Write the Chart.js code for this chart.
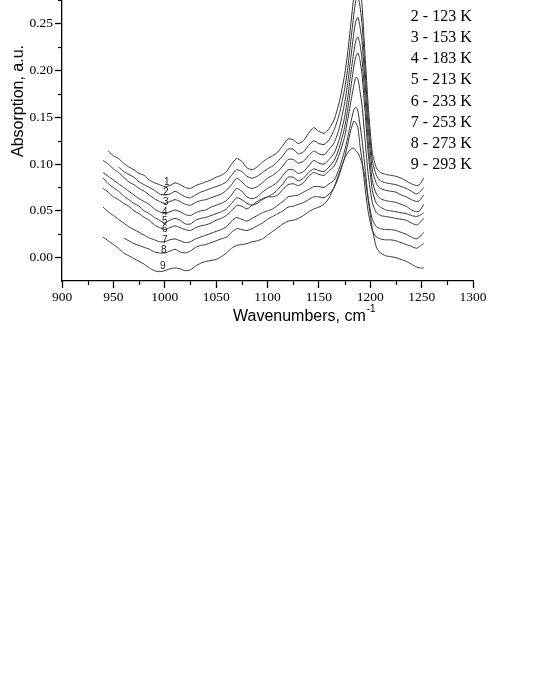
<!DOCTYPE html>
<html lang="en">
<head>
  <meta charset="UTF-8">
  <title>IR absorption vs temperature</title>
  <script src="https://cdn.jsdelivr.net/npm/chart.js"></script>
  <style>
    html, body {
      margin: 0;
      padding: 0;
      background: #fff;
      width: 536px;
      height: 693px;
      overflow: hidden;
      position: relative;
    }
    #grafico {
      position: absolute;
      left: 0;
      top: -100px;
    }
  </style>
</head>
<body>
  <canvas id="grafico" width="536" height="450"></canvas>

  <script>
// wavenumbers, cm-1 (shared x for all curves)
const wavenumbers = [
  940, 945, 950, 955, 960, 965, 970, 975, 980, 985, 990, 995, 1000,
  1005, 1010, 1015, 1020, 1025, 1030, 1035, 1040, 1045, 1050, 1055, 1060,
  1065, 1070, 1075, 1080, 1085, 1090, 1095, 1100, 1105, 1110, 1115, 1120,
  1125, 1130, 1135, 1140, 1145, 1150, 1155, 1160, 1165, 1170, 1175,
  1178, 1181, 1184, 1186, 1188, 1190, 1192, 1195, 1198, 1202, 1206, 1210,
  1215, 1220, 1225, 1230, 1235, 1240, 1245, 1248, 1252
];

const curve1 = [
  null, 0.114, 0.109, 0.106, 0.101, 0.097, 0.094, 0.090, 0.088, 0.083, 0.080, 0.078, 0.076,
  0.077, 0.080, 0.078, 0.075, 0.074, 0.077, 0.079, 0.081, 0.083, 0.086, 0.088, 0.092,
  0.100, 0.106, 0.103, 0.096, 0.094, 0.097, 0.102, 0.106, 0.109, 0.113, 0.120, 0.127,
  0.126, 0.122, 0.125, 0.133, 0.139, 0.135, 0.133, 0.138, 0.148, 0.167, 0.195,
  0.219, 0.249, 0.279, 0.294, 0.300, 0.289, 0.270, 0.216, 0.163, 0.112, 0.096, 0.091,
  0.089, 0.088, 0.087, 0.085, 0.082, 0.079, 0.077, 0.078, 0.085
];
const curve2 = [
  null, null, null, 0.097, 0.092, 0.089, 0.086, 0.081, 0.078, 0.075, 0.072, 0.068, 0.067,
  0.068, 0.071, 0.068, 0.065, 0.064, 0.067, 0.070, 0.072, 0.074, 0.076, 0.078, 0.081,
  0.088, 0.094, 0.092, 0.087, 0.085, 0.087, 0.091, 0.095, 0.098, 0.103, 0.109, 0.116,
  0.116, 0.111, 0.113, 0.120, 0.125, 0.122, 0.121, 0.126, 0.137, 0.154, 0.180,
  0.202, 0.231, 0.260, 0.275, 0.279, 0.269, 0.250, 0.200, 0.150, 0.104, 0.088, 0.082,
  0.080, 0.079, 0.078, 0.076, 0.074, 0.071, 0.068, 0.070, 0.075
];
const curve3 = [
  0.104, 0.100, 0.095, 0.091, 0.086, 0.081, 0.078, 0.074, 0.071, 0.067, 0.063, 0.060, 0.058,
  0.060, 0.062, 0.060, 0.057, 0.056, 0.059, 0.061, 0.062, 0.064, 0.066, 0.068, 0.072,
  0.078, 0.085, 0.081, 0.076, 0.074, 0.076, 0.080, 0.085, 0.088, 0.092, 0.098, 0.105,
  0.105, 0.101, 0.103, 0.109, 0.114, 0.111, 0.110, 0.116, 0.123, 0.139, 0.165,
  0.186, 0.213, 0.240, 0.253, 0.257, 0.247, 0.231, 0.186, 0.138, 0.094, 0.079, 0.074,
  0.072, 0.071, 0.070, 0.067, 0.065, 0.062, 0.060, 0.061, 0.067
];
const curve4 = [
  0.091, 0.087, 0.083, 0.079, 0.075, 0.071, 0.067, 0.063, 0.060, 0.057, 0.052, 0.049, 0.047,
  0.049, 0.051, 0.049, 0.046, 0.045, 0.048, 0.050, 0.051, 0.054, 0.056, 0.058, 0.061,
  0.067, 0.074, 0.071, 0.065, 0.063, 0.065, 0.070, 0.074, 0.077, 0.081, 0.088, 0.094,
  0.094, 0.090, 0.092, 0.098, 0.104, 0.101, 0.100, 0.105, 0.112, 0.127, 0.150,
  0.171, 0.196, 0.220, 0.232, 0.236, 0.228, 0.212, 0.170, 0.124, 0.082, 0.068, 0.063,
  0.061, 0.060, 0.059, 0.057, 0.055, 0.051, 0.049, 0.050, 0.057
];
const curve5 = [
  0.085, 0.079, 0.075, 0.071, 0.066, 0.062, 0.058, 0.055, 0.050, 0.047, 0.043, 0.040, 0.037,
  0.040, 0.042, 0.040, 0.036, 0.036, 0.040, 0.042, 0.043, 0.045, 0.047, 0.049, 0.052,
  0.058, 0.064, 0.062, 0.058, 0.056, 0.058, 0.062, 0.065, 0.068, 0.073, 0.079, 0.086,
  0.086, 0.082, 0.085, 0.091, 0.095, 0.093, 0.092, 0.097, 0.104, 0.118, 0.139,
  0.158, 0.181, 0.204, 0.215, 0.219, 0.211, 0.196, 0.155, 0.112, 0.072, 0.058, 0.054,
  0.051, 0.050, 0.049, 0.048, 0.047, 0.045, 0.044, 0.045, 0.048
];
const curve6 = [
  0.074, 0.070, 0.065, 0.062, 0.058, 0.055, 0.050, 0.047, 0.043, 0.040, 0.035, 0.032, 0.030,
  0.032, 0.034, 0.032, 0.030, 0.029, 0.032, 0.034, 0.035, 0.037, 0.040, 0.042, 0.045,
  0.050, 0.056, 0.055, 0.052, 0.056, 0.060, 0.063, 0.065, 0.065, 0.067, 0.073, 0.078,
  0.079, 0.077, 0.080, 0.087, 0.091, 0.089, 0.088, 0.093, 0.098, 0.111, 0.129,
  0.147, 0.166, 0.184, 0.193, 0.191, 0.178, 0.163, 0.125, 0.089, 0.059, 0.048, 0.045,
  0.044, 0.043, 0.042, 0.041, 0.040, 0.037, 0.035, 0.037, 0.042
];
const curve7 = [
  0.054, 0.049, 0.045, 0.041, 0.037, 0.033, 0.030, 0.027, 0.024, 0.021, 0.019, 0.017, 0.017,
  0.019, 0.020, 0.018, 0.016, 0.017, 0.020, 0.022, 0.024, 0.026, 0.028, 0.030, 0.033,
  0.039, 0.043, 0.041, 0.039, 0.042, 0.045, 0.048, 0.050, 0.052, 0.056, 0.060, 0.065,
  0.066, 0.067, 0.070, 0.073, 0.076, 0.076, 0.075, 0.079, 0.083, 0.096, 0.114,
  0.128, 0.144, 0.158, 0.161, 0.157, 0.142, 0.126, 0.095, 0.064, 0.041, 0.033, 0.031,
  0.030, 0.030, 0.029, 0.027, 0.025, 0.022, 0.020, 0.022, 0.027
];
const curve8 = [
  null, null, null, null, 0.021, 0.018, 0.015, 0.013, 0.011, 0.009, 0.006, 0.005, 0.005,
  0.007, 0.009, 0.006, 0.005, 0.007, 0.011, 0.013, 0.014, 0.016, 0.018, 0.020, 0.022,
  0.027, 0.031, 0.030, 0.029, 0.031, 0.034, 0.037, 0.041, 0.044, 0.047, 0.050, 0.054,
  0.055, 0.057, 0.059, 0.062, 0.065, 0.065, 0.064, 0.068, 0.075, 0.089, 0.107,
  0.121, 0.136, 0.146, 0.144, 0.139, 0.120, 0.104, 0.074, 0.049, 0.029, 0.022, 0.020,
  0.019, 0.019, 0.018, 0.016, 0.014, 0.012, 0.010, 0.012, 0.015
];
const curve9 = [
  0.022, 0.018, 0.014, 0.010, 0.005, 0.002, -0.001, -0.004, -0.007, -0.011, -0.014, -0.015, -0.014,
  -0.012, -0.011, -0.012, -0.014, -0.013, -0.009, -0.006, -0.004, -0.003, -0.002, 0.001, 0.005,
  0.010, 0.013, 0.014, 0.015, 0.017, 0.018, 0.020, 0.024, 0.028, 0.032, 0.036, 0.039,
  0.040, 0.042, 0.045, 0.049, 0.052, 0.054, 0.057, 0.064, 0.076, 0.091, 0.106,
  0.112, 0.116, 0.117, 0.114, 0.112, 0.107, 0.101, 0.085, 0.061, 0.031, 0.011, 0.005,
  0.002, 0.001, 0.000, -0.002, -0.004, -0.007, -0.010, -0.011, -0.011
];

const curvas = [curve1, curve2, curve3, curve4, curve5, curve6, curve7, curve8, curve9];
const temperaturas = [93, 123, 153, 183, 213, 233, 253, 273, 293];

// curve number labels near 1000 cm-1
const rotuloX = [1002, 1001, 1001, 1000, 1000, 1000, 1000, 999, 998];
const rotuloY = [0.081, 0.070, 0.059, 0.048, 0.039, 0.030, 0.019, 0.008, -0.009];

const xMinorTicks = [925, 975, 1025, 1075, 1125, 1175, 1225, 1275];
const yMinorTicks = [0.025, 0.075, 0.125, 0.175, 0.225, 0.275, 0.325];

const serif = '"Liberation Serif", "Times New Roman", serif';
const sans = '"Liberation Sans", Arial, sans-serif';

const extras = {
  id: 'extras',
  afterDraw(chart) {
    const ctx = chart.ctx;
    const xs = chart.scales.x;
    const ys = chart.scales.y;
    const area = chart.chartArea;
    ctx.save();
    ctx.strokeStyle = '#000';
    ctx.lineWidth = 1.2;

    // minor ticks
    xMinorTicks.forEach(v => {
      const px = Math.round(xs.getPixelForValue(v)) + 0.5;
      ctx.beginPath();
      ctx.moveTo(px, area.bottom);
      ctx.lineTo(px, area.bottom + 4);
      ctx.stroke();
    });
    yMinorTicks.forEach(v => {
      const py = Math.round(ys.getPixelForValue(v)) + 0.5;
      ctx.beginPath();
      ctx.moveTo(area.left - 4, py);
      ctx.lineTo(area.left, py);
      ctx.stroke();
    });

    // curve numbers
    ctx.fillStyle = '#222';
    ctx.font = '10px ' + sans;
    ctx.textAlign = 'center';
    ctx.textBaseline = 'middle';
    rotuloX.forEach((x, i) => {
      ctx.fillText(String(i + 1), xs.getPixelForValue(x), ys.getPixelForValue(rotuloY[i]));
    });

    // legend text
    ctx.fillStyle = '#000';
    ctx.font = '16px ' + serif;
    ctx.textAlign = 'left';
    const legX = xs.getPixelForValue(1239.5);
    const legY0 = ys.getPixelForValue(0.2578) - 21.2;
    temperaturas.forEach((t, i) => {
      ctx.fillText(`${i + 1} - ${t} K`, legX, legY0 + i * 21.2);
    });

    // x title with superscript
    ctx.font = '16px ' + sans;
    ctx.textBaseline = 'middle';
    const titulo = 'Wavenumbers, cm';
    const tx = 233;
    const ty = area.bottom + 36;
    ctx.fillText(titulo, tx, ty);
    const w = ctx.measureText(titulo).width;
    ctx.font = '10px ' + sans;
    ctx.fillText('-1', w + tx + 1, ty - 8);
    ctx.restore();
  }
};

new Chart(document.getElementById('grafico').getContext('2d'), {
  type: 'line',
  data: {
    datasets: curvas.map((c, i) => ({
      label: `${i + 1} - ${temperaturas[i]} K`,
      data: wavenumbers.map((x, j) => ({ x: x, y: c[j] })).filter(p => p.y !== null),
      borderColor: '#333',
      borderWidth: 1,
      pointRadius: 0,
      fill: false,
      tension: 0.2
    }))
  },
  options: {
    responsive: false,
    animation: false,
    devicePixelRatio: 1,
    layout: { padding: { top: 21, right: 63, bottom: 0, left: 0 } },
    plugins: {
      legend: { display: false },
      tooltip: { enabled: false }
    },
    scales: {
      x: {
        type: 'linear',
        min: 900,
        max: 1300,
        afterFit: (scale) => { scale.height = 69; },
        border: { display: true, color: '#000', width: 1.3 },
        grid: { drawOnChartArea: false, drawTicks: true, tickLength: 7, tickColor: '#000', tickWidth: 1.3 },
        ticks: {
          stepSize: 50,
          color: '#000',
          padding: 1,
          maxRotation: 0,
          font: { family: serif, size: 13.5 },
          callback: (v) => String(v)
        }
      },
      y: {
        min: -0.025,
        max: 0.36,
        afterFit: (scale) => { scale.width = 62; },
        border: { display: true, color: '#000', width: 1.3 },
        grid: { drawOnChartArea: false, drawTicks: true, tickLength: 7, tickColor: '#000', tickWidth: 1.3 },
        ticks: {
          stepSize: 0.05,
          includeBounds: false,
          color: '#000',
          padding: 2,
          font: { family: serif, size: 13.5 },
          callback: (v) => v.toFixed(2)
        },
        title: {
          display: true,
          text: 'Absorption, a.u.',
          color: '#000',
          padding: { top: 9, bottom: 0 },
          font: { family: sans, size: 16, weight: 'normal' }
        }
      }
    }
  },
  plugins: [extras]
});
</script>
</body>
</html>
